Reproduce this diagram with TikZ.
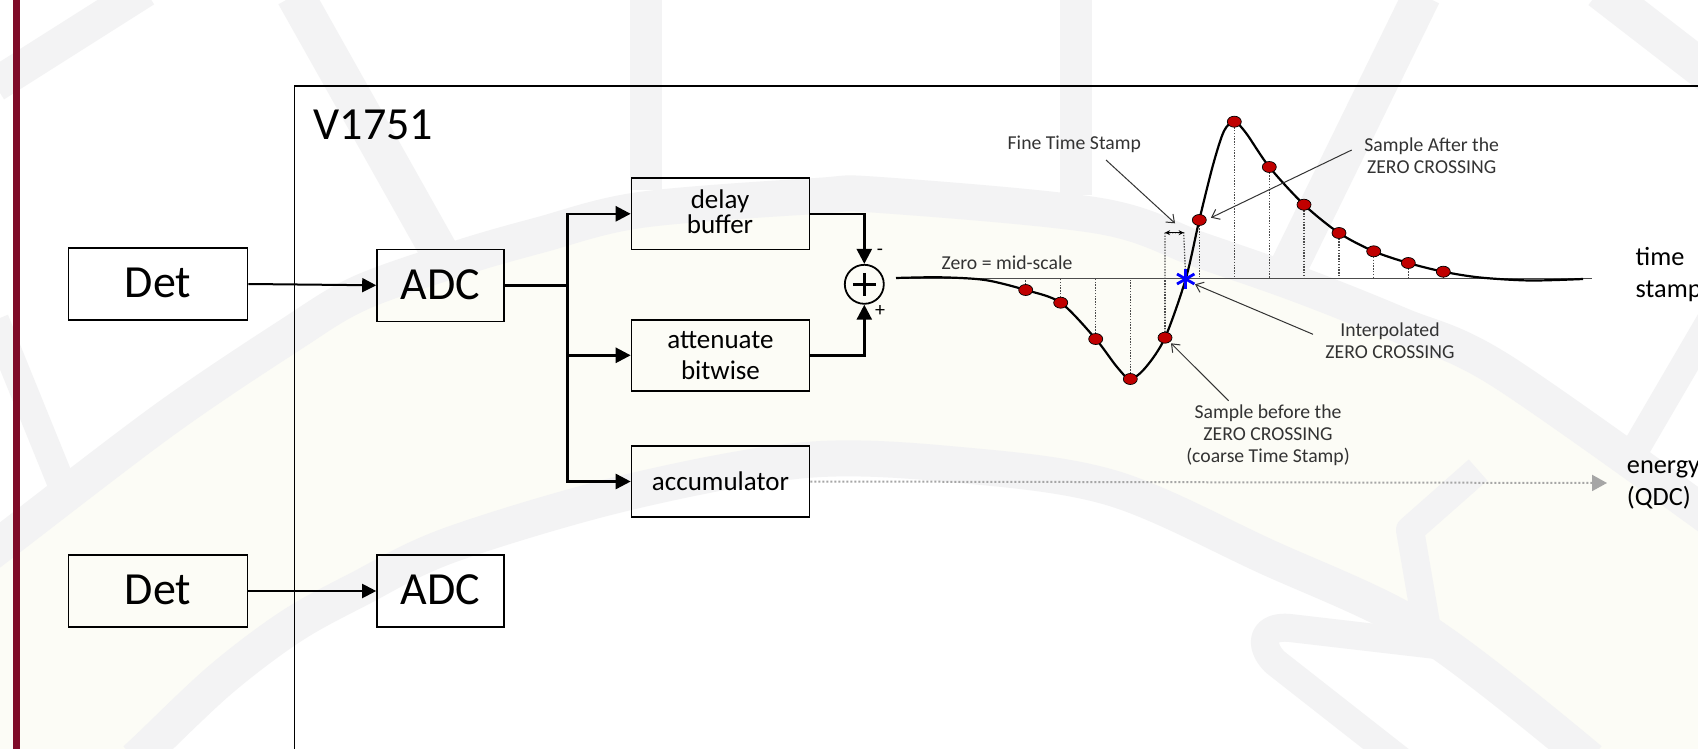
\documentclass[tikz,border=0pt]{standalone}
\usepackage{fontspec}
\setmainfont{Carlito}
\usetikzlibrary{arrows.meta,shapes.geometric,calc}
\definecolor{cream}{HTML}{FCFCF6}
\definecolor{band}{HTML}{F3F3F4}
\definecolor{maroon}{HTML}{7F0B28}
\definecolor{sampred}{HTML}{C00000}
\definecolor{annot}{HTML}{333333}
\tikzset{
  wm/.style={draw=band,line width=36pt,line cap=butt,line join=round},
  box/.style={draw=black,line width=1.6pt,rectangle,inner sep=0pt},
  big/.style={font=\fontsize{46}{50}\selectfont,text height=27.5pt,text depth=0pt},
  mid/.style={font=\fontsize{27}{31}\selectfont,align=center},
  flow/.style={draw=black,line width=2.6pt,-{Triangle[length=15pt,width=15pt]}},
  thin flow/.style={draw=black,line width=2pt,-{Triangle[length=14pt,width=14pt]}},
  bus/.style={draw=black,line width=2.6pt},
  sample/.style={ellipse,draw=black,line width=.7pt,fill=sampred,minimum width=14pt,minimum height=11pt,inner sep=0pt},
  drop/.style={draw=black!70,line width=1.2pt,dash pattern=on 1.4pt off 1.4pt},
  note/.style={draw=annot,line width=1pt,-{Straight Barb[length=7pt,width=11pt]}},
  ann/.style={font=\fontsize{19.7}{22}\selectfont,text=annot,align=center,inner sep=0pt},
  side/.style={font=\fontsize{26.3}{32}\selectfont,align=left,anchor=west,inner sep=0pt},
}
\begin{document}
\begin{tikzpicture}[x=1pt,y=-1pt]
\useasboundingbox (0,0) rectangle (1698,749);
\clip (0,0) rectangle (1698,749);
\fill[white] (0,0) rectangle (1698,749);
% watermark
\fill[cream] plot[smooth,tension=.55] coordinates {(0,545) (164,420) (290,335) (360,293) (460,258) (540,235) (640,210) (816,196) (880,195) (1100,216) (1200,250) (1300,285) (1400,325) (1500,370) (1698,510)}
  -- (1698,749) -- (1573,749) -- plot[smooth,tension=.55] coordinates {(1573,749) (1425,632) (1265,556) (1112,488) (960,465) (806,460) (625,493) (450,545) (357,590) (290,627) (220,680) (147,749)} -- (0,749) -- cycle;
\draw[wm] plot[smooth,tension=.55] coordinates {(-20,560) (0,545) (164,420) (290,335) (360,293) (460,258) (540,235) (640,210) (816,196) (880,195) (1100,216) (1200,250) (1300,285) (1400,325) (1500,370) (1720,525)};
\draw[wm] plot[smooth,tension=.55] coordinates {(135,760) (147,749) (220,680) (290,627) (357,590) (450,545) (625,493) (806,460) (960,465) (1112,488) (1265,556) (1425,632) (1590,760)};
\draw[wm,line width=32pt] (646,-5) -- (646,190);
\draw[wm,line width=32pt] (1076,-5) -- (1076,195);
\draw[wm,line width=38pt] (1422,-5) -- (1280,285);
\draw[wm,line width=38pt] (1600,-10) -- (1710,75);
\draw[wm,line width=38pt] (295,-5) -- (445,262);
\draw[wm,line width=34pt] (-5,85) -- (145,-10);
\draw[wm,line width=28pt] (-5,320) -- (62,485);
\draw[wm,line width=28pt] (1478,470) -- (1410,530) -- (1428,635);
\draw[wm,line width=28pt] (1436,645) -- (1290,628) .. controls (1262,625) and (1258,645) .. (1275,662) -- (1400,760);
\draw[wm,line width=28pt] (1712,318) -- (1635,450);
% left bar
\fill[maroon] (12.5,0) rectangle (19.5,749);
% module frame
\draw[black,line width=1.5pt] (294.5,760) -- (294.5,86) -- (1710,86);
\node[anchor=base west,inner sep=0pt,font=\fontsize{46}{50}\selectfont] (title) at (313.5,139.3) {V1751};
% boxes
\node[box,big,minimum width=179pt,minimum height=72pt] (det1) at (158,284) {Det};
\node[box,big,minimum width=179pt,minimum height=72pt] (det2) at (158,591) {Det};
\node[box,big,minimum width=127pt,minimum height=72pt] (adc1) at (440.5,285.3) {ADC};
\node[box,big,minimum width=127pt,minimum height=72pt] (adc2) at (440.5,591) {ADC};
\node[box,minimum width=178pt,minimum height=71pt] (delay) at (720.5,213.8) {};
\node[mid,inner sep=0pt] (delaytext) at (720,211.5) {delay\\[-6pt]buffer};
\node[box,mid,minimum width=178pt,minimum height=71pt] (atten) at (720.5,355.3) {attenuate\\bitwise};
\node[box,mid,minimum width=178pt,minimum height=71pt,text height=17pt,text depth=0pt] (accu) at (720.5,481.5) {accumulator};
\node[circle,draw=black,line width=1.8pt,minimum size=39pt,inner sep=0pt] (sum) at (864.3,284.3) {};
\draw[black,line width=3pt] ($(sum.center)+(-11.5,0)$) -- ($(sum.center)+(11.5,0)$);
\draw[black,line width=3pt] ($(sum.center)+(0,-11.5)$) -- ($(sum.center)+(0,11.5)$);
\node[font=\fontsize{20}{24}\selectfont,inner sep=0pt] (minus) at (880,252) {-};
\node[font=\fontsize{20}{24}\selectfont,inner sep=0pt] (plus) at (880,311.5) {+};
% connectors
\coordinate (split) at (567.5,285.3);
\draw[thin flow] (det1.east) -- (adc1.west);
\draw[thin flow] (det2.east) -- (adc2.west);
\draw[bus] (adc1.east) -- (split);
\draw[flow] (split) |- (delay.west);
\draw[flow] (split) |- (atten.west);
\draw[flow] (split) |- (accu.west);
\draw[flow] (delay.east) -| (sum.north);
\draw[flow] (atten.east) -| (sum.south);
\coordinate (energyend) at (1607,483);
\draw[draw=black!35,line width=2pt,dash pattern=on 2pt off 2pt,-{Triangle[length=15pt,width=16pt,fill=black!35]}] (accu.east) -- (energyend);
% signal
\coordinate (zl) at (896,278.3);
\coordinate (zr) at (1592,278.3);
\draw[black!70,line width=1.3pt] (zl) -- (zr);
\coordinate (p1) at (1025.7,290);
\coordinate (p2) at (1060.7,302.7);
\coordinate (p3) at (1095.7,339);
\coordinate (p4) at (1130.3,379);
\coordinate (p5) at (1165,337.7);
\coordinate (p6) at (1199.3,220);
\coordinate (p7) at (1234.3,121.7);
\coordinate (p8) at (1269.3,167);
\coordinate (p9) at (1304,204.7);
\coordinate (p10) at (1339,233);
\coordinate (p11) at (1373.7,251.3);
\coordinate (p12) at (1408.3,263);
\coordinate (p13) at (1443.3,271.7);
\coordinate (cross) at (1185.7,279);
\foreach \i in {1,...,13}{\draw[drop] (p\i) -- (p\i |- zl);}
\coordinate (ft1) at (1165,232.7);
\coordinate (ft2) at (1183.7,232.7);
\draw[drop] (p5) -- (ft1) -- (ft2) -- (cross);
\draw[black,line width=.9pt,{Stealth[length=5pt,width=5pt]}-{Stealth[length=5pt,width=5pt]}] (ft1) -- (ft2);
\draw[black,line width=2.2pt] plot[smooth,tension=.5] coordinates {(896,278) (940,277.3) (985,280) (p1) (p2) (p3) (1117,367) (p4) (1146,367) (p5) (cross) (p6) (1213,165) (1224,131) (p7) (1246,133) (p8) (p9) (p10) (p11) (p12) (p13) (1480,277.5) (1530,280.5) (1583,279)};
\foreach \i in {1,...,13}{\node[sample] (s\i) at (p\i) {};}
\draw[blue,line width=2.8pt] ($(cross)+(0,-10)$) -- ($(cross)+(0,10)$);
\draw[blue,line width=2.8pt] ($(cross)+(-8.7,-5)$) -- ($(cross)+(8.7,5)$);
\draw[blue,line width=2.8pt] ($(cross)+(8.7,-5)$) -- ($(cross)+(-8.7,5)$);
% annotations
\node[ann] (zerotxt) at (1007,262.7) {Zero = mid-scale};
\node[ann] (finetxt) at (1074.3,144) {Fine Time Stamp};
\node[ann] (aftertxt) at (1431.7,155.5) {Sample After the\\ZERO CROSSING};
\node[ann] (interptxt) at (1390,340.5) {Interpolated\\ZERO CROSSING};
\node[ann] (beforetxt) at (1268,435) {Sample before the\\ZERO CROSSING\\(coarse Time Stamp)};
\coordinate (a1) at (1106,160);
\coordinate (a1e) at (1175,223.3);
\coordinate (a2) at (1351.7,150);
\coordinate (a2e) at (1211,217.7);
\coordinate (a3) at (1313,334.3);
\coordinate (a3e) at (1195,284.3);
\coordinate (a4) at (1228.6,400.7);
\coordinate (a4e) at (1171,343.3);
\draw[note] (a1) -- (a1e);
\draw[note] (a2) -- (a2e);
\draw[note] (a3) -- (a3e);
\draw[note] (a4) -- (a4e);
% outputs
\node[side] (timetxt) at (1635.5,275) {time\\stamp};
\node[side] (energytxt) at (1626.7,485) {energy\\(QDC)};
\end{tikzpicture}
\end{document}
